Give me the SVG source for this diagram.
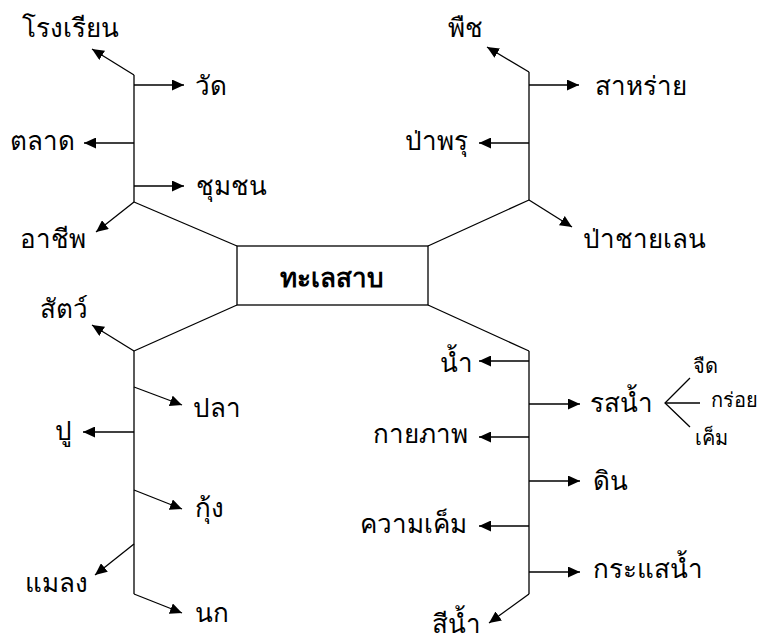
<svg xmlns="http://www.w3.org/2000/svg" width="758" height="641" viewBox="0 0 758 641">
<style>
text{font-family:"Liberation Serif","DejaVu Serif",serif;font-size:26px;fill:#000}
.s{font-size:20px}
.b{font-weight:bold;font-size:26px}
.c line,.c polyline{stroke:#000;stroke-width:1.3;fill:none}
.a{marker-end:url(#ah)}
</style>
<defs>
<marker id="ah" viewBox="0 0 12 11" refX="12" refY="5.5" markerWidth="12" markerHeight="11" markerUnits="userSpaceOnUse" orient="auto">
<path d="M0,0L12,5.5L0,11z" fill="#000"/>
</marker>
</defs>
<rect width="758" height="641" fill="#fff"/>
<g id="center"><rect x="237" y="246" width="191" height="59" fill="#fff" stroke="#000" stroke-width="1.3"/><text class="b" x="332" y="287" text-anchor="middle">ทะเลสาบ</text></g>
<g class="c" id="connectors">
<line x1="134" y1="75" x2="134" y2="202"/>
<line x1="134" y1="202" x2="237" y2="246"/>
<line class="a" x1="134" y1="75" x2="92" y2="49"/>
<line class="a" x1="134" y1="85" x2="184" y2="85"/>
<line class="a" x1="134" y1="143" x2="84" y2="143"/>
<line class="a" x1="134" y1="186" x2="184" y2="186"/>
<line class="a" x1="134" y1="202" x2="96" y2="232"/>
<line x1="529" y1="72" x2="529" y2="200"/>
<line x1="529" y1="200" x2="428" y2="246"/>
<line class="a" x1="529" y1="72" x2="487" y2="47"/>
<line class="a" x1="529" y1="85" x2="579" y2="85"/>
<line class="a" x1="529" y1="143" x2="479" y2="143"/>
<line class="a" x1="529" y1="200" x2="572" y2="227"/>
<line x1="134" y1="351" x2="134" y2="594"/>
<line x1="134" y1="351" x2="237" y2="305"/>
<line class="a" x1="134" y1="351" x2="92" y2="325"/>
<line class="a" x1="134" y1="387" x2="182" y2="405"/>
<line class="a" x1="134" y1="432" x2="83" y2="432"/>
<line class="a" x1="134" y1="490" x2="182" y2="509"/>
<line class="a" x1="134" y1="544" x2="95" y2="575"/>
<line class="a" x1="134" y1="594" x2="182" y2="613"/>
<line x1="529" y1="351" x2="529" y2="594"/>
<line x1="529" y1="351" x2="428" y2="305"/>
<line class="a" x1="529" y1="361" x2="479" y2="361"/>
<line class="a" x1="529" y1="404" x2="580" y2="404"/>
<line class="a" x1="529" y1="437" x2="479" y2="437"/>
<line class="a" x1="529" y1="481" x2="580" y2="481"/>
<line class="a" x1="529" y1="526" x2="479" y2="526"/>
<line class="a" x1="529" y1="572" x2="580" y2="572"/>
<line class="a" x1="529" y1="594" x2="489" y2="623"/>
<polyline points="690,378 665,403 690,427"/>
<line x1="665" y1="403" x2="700" y2="403"/>
</g>
<g id="n-rongrian"><text x="22" y="37">โรงเรียน</text></g>
<g id="n-wat"><text x="195" y="95">วัด</text></g>
<g id="n-talad"><text x="10" y="150">ตลาด</text></g>
<g id="n-chumchon"><text x="196" y="195">ชุมชน</text></g>
<g id="n-achip"><text x="20" y="248">อาชีพ</text></g>
<g id="n-puet"><text x="448" y="37">พืช</text></g>
<g id="n-sarai"><text x="595" y="95">สาหร่าย</text></g>
<g id="n-paphru"><text x="405" y="150">ป่าพรุ</text></g>
<g id="n-pachaylen"><text x="583" y="248">ป่าชายเลน</text></g>
<g id="n-sat"><text x="40" y="318">สัตว์</text></g>
<g id="n-pla"><text x="193" y="417">ปลา</text></g>
<g id="n-pu"><text x="55" y="440">ปู</text></g>
<g id="n-kung"><text x="195" y="517">กุ้ง</text></g>
<g id="n-malaeng"><text x="25" y="592">แมลง</text></g>
<g id="n-nok"><text x="195" y="622">นก</text></g>
<g id="n-nam"><text x="440" y="372">น้ำ</text></g>
<g id="n-rotnam"><text x="590" y="412">รสน้ำ</text></g>
<g id="n-chuet"><text class="s" x="693" y="373">จืด</text></g>
<g id="n-kroi"><text class="s" x="711" y="407">กร่อย</text></g>
<g id="n-khem"><text class="s" x="695" y="445">เค็ม</text></g>
<g id="n-kayaphap"><text x="373" y="443">กายภาพ</text></g>
<g id="n-din"><text x="593" y="490">ดิน</text></g>
<g id="n-khwamkhem"><text x="360" y="533">ความเค็ม</text></g>
<g id="n-krasaenam"><text x="593" y="578">กระแสน้ำ</text></g>
<g id="n-sinam"><text x="432" y="633">สีน้ำ</text></g>
</svg>
